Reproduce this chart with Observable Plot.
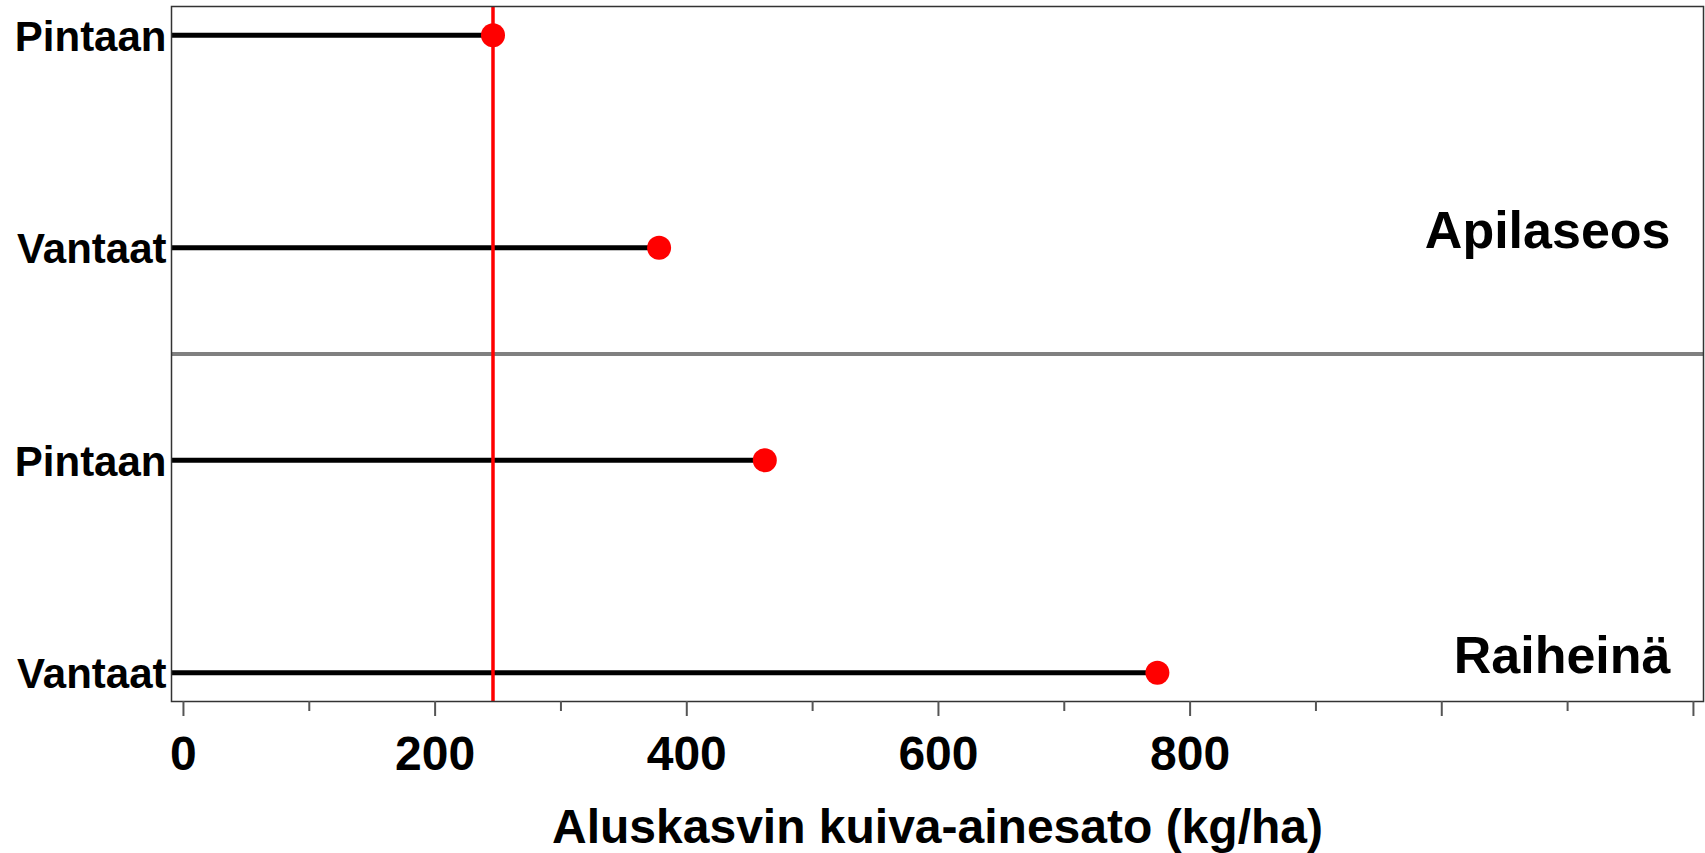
<!DOCTYPE html>
<html><head><meta charset="utf-8">
<script src="https://cdn.jsdelivr.net/npm/d3@7"></script>
<script src="https://cdn.jsdelivr.net/npm/@observablehq/plot@0.6"></script>
<style>html,body{margin:0;padding:0;overflow:hidden;background:#fff}</style>
</head><body><div id="chart"></div>
<script>
// ---- data ----
const groups = ["Apilaseos", "Apilaseos", "Raiheinä", "Raiheinä"];
const treatments = ["Pintaan", "Vantaat", "Pintaan", "Vantaat"];
const yields = [246, 378, 462, 774];
const referenceValue = 246;
const groupLabels = ["Apilaseos", "Raiheinä"];
const xTicksMajor = [0, 200, 400, 600, 800, 1000, 1200];
const xTicksMinor = [100, 300, 500, 700, 900, 1100];
const xTickLabels = [0, 200, 400, 600, 800];
const xLabel = "Aluskasvin kuiva-ainesato (kg/ha)";
const xDomain = [-9.5, 1208];

// ---- derived tables ----
const rows = treatments.map((t, i) => ({row: i, group: groups[i], treatment: t, value: yields[i]}));
const groupRows = groupLabels.map(g => ({group: g, row: d3.max(rows.filter(r => r.group === g), r => r.row)}));
const dividers = groupLabels.slice(1).map(g => ({row: d3.min(rows.filter(r => r.group === g), r => r.row) - 0.5}));

const chart = Plot.plot({
  width: 1705,
  height: 853,
  marginLeft: 171,
  marginRight: 2,
  marginTop: 6,
  marginBottom: 152,
  style: {fontFamily: "'Liberation Sans', Arial, Helvetica, sans-serif", fontWeight: "bold", color: "#000", background: "#fff"},
  x: {domain: xDomain},
  y: {domain: [-0.135, rows.length - 1 + 0.135], reverse: true},
  marks: [
    Plot.ruleY(dividers, {y: "row", stroke: "#808080", strokeWidth: 4}),
    Plot.ruleY(rows, {y: "row", x1: xDomain[0], x2: "value", stroke: "#000", strokeWidth: 5}),
    Plot.ruleX([referenceValue], {stroke: "#ff0000", strokeWidth: 3.5}),
    Plot.dot(rows, {x: "value", y: "row", r: 12, fill: "#ff0000", stroke: "none"}),
    Plot.frame({stroke: "#333", strokeWidth: 1.5}),
    Plot.axisY(rows.map(r => r.row), {tickFormat: i => treatments[i], tickSize: 0, tickPadding: 5, fontSize: 42, label: null, dy: 2}),
    Plot.axisX(xTicksMajor, {tickSize: 15, tickFormat: () => "", stroke: "#555", strokeWidth: 2, label: null}),
    Plot.axisX(xTicksMinor, {tickSize: 10, tickFormat: () => "", stroke: "#555", strokeWidth: 2, label: null}),
    Plot.axisX(xTickLabels, {tickSize: 0, tickPadding: 34, fontSize: 48, label: null}),
    Plot.text(groupRows, {x: xDomain[1], y: "row", text: "group", textAnchor: "end", lineAnchor: "bottom", dx: -33, fontSize: 52, fontWeight: "bold"}),
    Plot.text([xLabel], {frameAnchor: "bottom", dy: 141, fontSize: 48, fontWeight: "bold"})
  ]
});
document.getElementById("chart").appendChild(chart);
</script>
</body></html>
